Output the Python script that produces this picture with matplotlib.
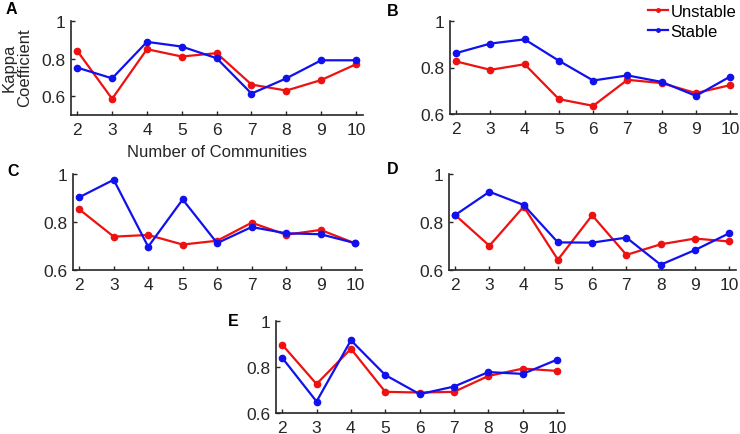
import matplotlib.pyplot as plt
import numpy as np

plt.rcParams['font.family'] = ['Liberation Sans', 'DejaVu Sans']

# Data
communities = [2, 3, 4, 5, 6, 7, 8, 9, 10]

unstable_a = [0.841, 0.586, 0.850, 0.811, 0.829, 0.662, 0.630, 0.686, 0.770]
stable_a   = [0.752, 0.695, 0.889, 0.864, 0.802, 0.614, 0.695, 0.791, 0.791]

unstable_b = [0.826, 0.790, 0.814, 0.664, 0.635, 0.747, 0.733, 0.690, 0.724]
stable_b   = [0.862, 0.903, 0.921, 0.829, 0.744, 0.766, 0.738, 0.678, 0.761]

unstable_c = [0.853, 0.739, 0.746, 0.706, 0.722, 0.797, 0.747, 0.767, 0.711]
stable_c   = [0.903, 0.976, 0.697, 0.894, 0.712, 0.779, 0.753, 0.749, 0.712]

unstable_d = [0.829, 0.701, 0.864, 0.643, 0.828, 0.663, 0.707, 0.731, 0.719]
stable_d   = [0.829, 0.926, 0.871, 0.715, 0.714, 0.735, 0.622, 0.683, 0.753]

unstable_e = [0.897, 0.726, 0.879, 0.692, 0.689, 0.692, 0.761, 0.793, 0.783]
stable_e   = [0.840, 0.650, 0.916, 0.765, 0.682, 0.715, 0.778, 0.770, 0.832]

panel_labels = ['A', 'B', 'C', 'D', 'E']
series_names = ['Unstable', 'Stable']

W, H = 740.0, 435.0
FS = 12
TFS = 12.5
TXT = '#262626'

# panel boxes in pixels: left, top, right, bottom
boxes = [(71, 22, 363, 116),
         (450, 22, 737, 115),
         (73, 175, 362, 271),
         (449, 175, 736, 271),
         (276, 322, 564, 414)]
# panel letter spots in pixels: left, centre y
letter_pos = [(6, 10), (387, 12), (7, 171), (387, 169), (228, 322)]
ylims = [(0.5, 1), (0.6, 1), (0.6, 1), (0.6, 1), (0.6, 1)]
data = [(unstable_a, stable_a), (unstable_b, stable_b), (unstable_c, stable_c),
        (unstable_d, stable_d), (unstable_e, stable_e)]

fig = plt.figure(figsize=(W / 100, H / 100), dpi=100)

for i in range(5):
    l, t, r, b = boxes[i]
    ax = fig.add_axes([l / W, 1 - b / H, (r - l) / W, (b - t) / H])
    red, blue = data[i]
    ax.plot(communities, red, color='#ee1111', marker='o', markersize=4.5, lw=1.6, label=series_names[0])
    ax.plot(communities, blue, color='#1111ee', marker='o', markersize=4.5, lw=1.6, label=series_names[1])

    ax.set_xlim(1.82, 10.2)
    ax.set_ylim(*ylims[i])
    ax.set_xticks(communities)
    ax.set_yticks([0.6, 0.8, 1.0])
    ax.set_yticklabels(['0.6', '0.8', '1'])

    for s in ['top', 'right']:
        ax.spines[s].set_visible(False)
    for s in ['left', 'bottom']:
        ax.spines[s].set_color(TXT)
        ax.spines[s].set_linewidth(1.2)
    ax.tick_params(direction='in', length=3, width=1, colors=TXT, labelsize=TFS)
    ax.tick_params(axis='x', pad=5)
    ax.tick_params(axis='y', pad=4)

    lx, ly = letter_pos[i]
    fig.text(lx / W, 1 - ly / H, panel_labels[i], fontsize=11.5, fontweight='bold',
             va='center', ha='left', color='black')

    if i == 0:
        ax.set_xlabel('Number of Communities', fontsize=FS, color=TXT, labelpad=5)
        fig.text(17 / W, 1 - 68 / H, 'Kappa\nCoefficient', fontsize=FS, color=TXT, rotation=90,
                 ha='center', va='center', linespacing=1.0)
    if i == 1:
        handles, labels = ax.get_legend_handles_labels()
        fig.legend(handles, labels, loc='upper left', bbox_to_anchor=(648 / W, 1 - 5 / H),
                   frameon=False, fontsize=FS, handlelength=1.2, handletextpad=0.15,
                   labelspacing=0.3, borderaxespad=0, borderpad=0, markerscale=0.55)

plt.savefig('out.png', dpi=100)
